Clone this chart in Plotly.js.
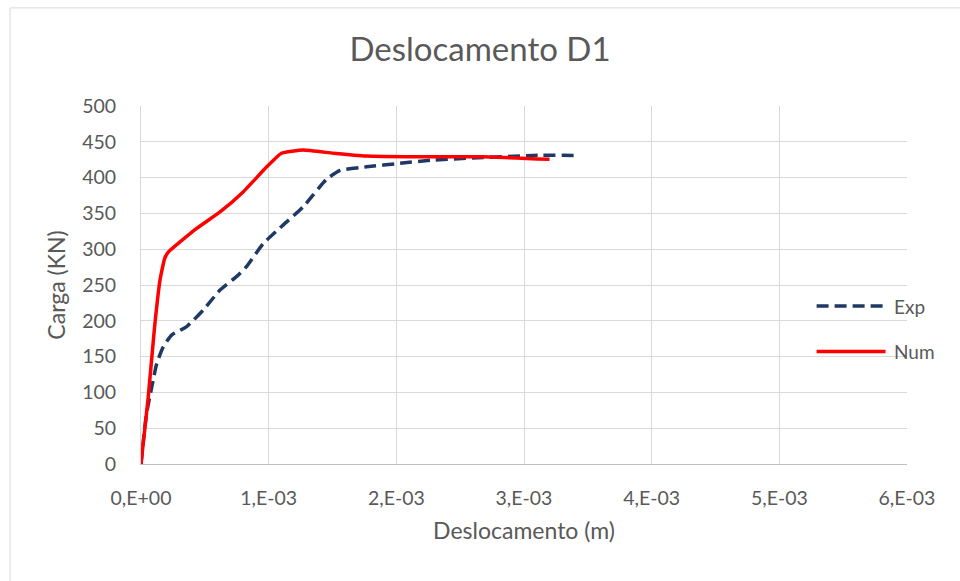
<!DOCTYPE html>
<html>
<head>
<meta charset="utf-8">
<script src="https://cdn.plot.ly/plotly-3.0.1.min.js"></script>
<style>
  html, body { margin: 0; padding: 0; background: #ffffff; }
  #chart { width: 960px; height: 581px; }
</style>
</head>
<body>
<div id="chart"></div>
<script>
// Load-displacement curves, displacement in metres, load in kN
const expX = [0, 0.00002, 0.000044, 0.000085, 0.000123, 0.000175, 0.00024, 0.000358, 0.000488, 0.000619, 0.00075, 0.000828, 0.000958, 0.001115, 0.00127, 0.001455, 0.00156, 0.001767, 0.00203, 0.00229, 0.00268, 0.00307, 0.00341];
const expY = [0, 35, 71, 108, 140, 164, 180, 192, 215, 243, 262, 276, 308, 334, 359, 398, 410, 415, 420, 424.5, 428, 431, 431];

const numX = [0, 0.000057, 0.000104, 0.000149, 0.000185, 0.000214, 0.000436, 0.000619, 0.0008, 0.000985, 0.0011, 0.00127, 0.001506, 0.001767, 0.00216, 0.00268, 0.0032];
const numY = [0, 94, 187, 257, 287, 296, 329, 352, 380, 415, 434, 438.5, 434, 430, 429, 429, 425.5];

const xTickVals = [0, 0.001, 0.002, 0.003, 0.004, 0.005, 0.006];
const xTickText = ['0,E+00', '1,E-03', '2,E-03', '3,E-03', '4,E-03', '5,E-03', '6,E-03'];
const yTickVals = [0, 50, 100, 150, 200, 250, 300, 350, 400, 450, 500];

const seriesNames = ['Exp', 'Num'];
const seriesColors = ['#1f3864', '#ff0000'];

const font = 'Lato, "Open Sans", sans-serif';
const textColor = '#595959';
const expDash = '12px,6px';

const traces = [
  {
    x: expX, y: expY, name: seriesNames[0], mode: 'lines',
    line: { color: seriesColors[0], width: 3.5, dash: expDash, shape: 'spline', smoothing: 0.5 },
    showlegend: false
  },
  {
    x: numX, y: numY, name: seriesNames[1], mode: 'lines',
    line: { color: seriesColors[1], width: 3.5, shape: 'spline', smoothing: 0.4 },
    showlegend: false
  }
];

// legend drawn as paper-anchored samples beside the plot, plus the chart frame
const legendShapes = [
  { type: 'line', xref: 'paper', yref: 'paper', x0: 0.882, x1: 0.972, y0: 0.441, y1: 0.441,
    line: { color: seriesColors[0], width: 3.5, dash: expDash } },
  { type: 'line', xref: 'paper', yref: 'paper', x0: 0.882, x1: 0.972, y0: 0.314, y1: 0.314,
    line: { color: seriesColors[1], width: 3.5 } },
  { type: 'rect', xref: 'paper', yref: 'paper', x0: -0.171, x1: 1.08, y0: -0.33, y1: 1.274,
    line: { color: '#d9d9d9', width: 1 }, fillcolor: 'rgba(0,0,0,0)', layer: 'below' }
];

const legendLabels = [
  { xref: 'paper', yref: 'paper', x: 0.98, y: 0.441, xanchor: 'left', yanchor: 'middle',
    text: seriesNames[0], showarrow: false, font: { family: font, size: 19, color: textColor } },
  { xref: 'paper', yref: 'paper', x: 0.98, y: 0.314, xanchor: 'left', yanchor: 'middle',
    text: seriesNames[1], showarrow: false, font: { family: font, size: 19, color: textColor } }
];

const layout = {
  width: 960, height: 581,
  margin: { l: 141, r: 53, t: 106, b: 117 },
  paper_bgcolor: '#ffffff', plot_bgcolor: '#ffffff',
  font: { family: font, color: textColor },
  title: { text: 'Deslocamento D1', font: { family: font, size: 33, color: textColor },
           x: 0.5, xanchor: 'center', y: 0.915, yanchor: 'middle' },
  xaxis: {
    range: [0, 0.006], tickvals: xTickVals, ticktext: xTickText,
    showgrid: true, gridcolor: '#d9d9d9', gridwidth: 1,
    showline: true, linecolor: '#bfbfbf', linewidth: 1,
    zeroline: false, ticks: '', ticklabelstandoff: 17,
    tickfont: { family: font, size: 19.5, color: textColor },
    title: { text: 'Deslocamento (m)', font: { family: font, size: 23, color: textColor }, standoff: 14 }
  },
  yaxis: {
    range: [0, 500], tickvals: yTickVals,
    showgrid: true, gridcolor: '#d9d9d9', gridwidth: 1,
    showline: true, linecolor: '#d9d9d9', linewidth: 1,
    zeroline: false, ticks: '', ticklabelstandoff: 20,
    tickfont: { family: font, size: 19.5, color: textColor },
    title: { text: 'Carga (KN)', font: { family: font, size: 23, color: textColor }, standoff: 10 }
  },
  shapes: legendShapes,
  annotations: legendLabels,
  showlegend: false
};

Plotly.newPlot('chart', traces, layout, { displayModeBar: false, staticPlot: true });
</script>
</body>
</html>
